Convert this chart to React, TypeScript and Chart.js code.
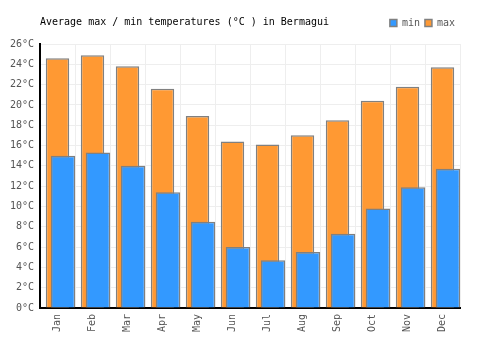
import React, { useEffect, useRef } from "react";
import { Chart, registerables } from "chart.js";

Chart.register(...registerables);

const months = ["Jan", "Feb", "Mar", "Apr", "May", "Jun", "Jul", "Aug", "Sep", "Oct", "Nov", "Dec"];
const minTemps = [15.0, 15.3, 14.0, 11.4, 8.5, 6.0, 4.7, 5.5, 7.3, 9.8, 11.9, 13.7];
const maxTemps = [24.6, 24.9, 23.8, 21.6, 18.9, 16.4, 16.1, 17.0, 18.5, 20.4, 21.8, 23.7];
const yTicks = [0, 26, 2];
const titleText = "Average max / min temperatures (°C ) in Bermagui";

const FONT = "'DejaVu Sans Mono', monospace";

export default function App() {
  const ref = useRef<HTMLCanvasElement | null>(null);

  useEffect(() => {
    document.body.style.margin = "0";
    const canvas = ref.current;
    if (!canvas) return;
    const shift = 5.5 / 35;
    const titlePlugin = {
      id: "leftTitle",
      afterDraw(chart: any) {
        const ctx = chart.ctx;
        ctx.save();
        ctx.font = `10px ${FONT}`;
        ctx.fillStyle = "#000";
        ctx.textBaseline = "middle";
        ctx.textAlign = "left";
        ctx.fillText(titleText, chart.chartArea.left, 22.5);
        ctx.restore();
      },
    };
    const chart = new Chart(canvas, {
      type: "bar",
      data: {
        labels: months,
        datasets: [
          {
            label: "min",
            data: minTemps.map((v, i) => ({ x: i, y: v })),
            xAxisID: "x2",
            backgroundColor: "#3399ff",
            borderColor: "#808080",
            borderWidth: 1.5,
            barPercentage: 0.7,
            categoryPercentage: 1,
            grouped: false,
          },
          {
            label: "max",
            data: maxTemps,
            xAxisID: "x",
            backgroundColor: "#ff9933",
            borderColor: "#808080",
            borderWidth: 1.5,
            barPercentage: 0.67,
            categoryPercentage: 1,
            grouped: false,
          },
        ],
      },
      options: {
        responsive: false,
        animation: false,
        layout: { padding: { top: 13, right: 40, left: 0, bottom: 12 } },
        font: { family: FONT, size: 10 },
        plugins: {
          title: { display: false },
          tooltip: { enabled: false },
          legend: {
            display: true,
            position: "top",
            align: "end",
            labels: {
              boxWidth: 7,
              boxHeight: 7,
              padding: 5,
              color: "#555",
              font: { family: FONT, size: 10 },
            },
          },
        },
        scales: {
          x: {
            type: "category",
            offset: true,
            grid: { color: "#eeeeee", offset: true, drawTicks: false },
            border: { color: "#000", width: 2 },
            ticks: {
              color: "#555",
              minRotation: 90,
              maxRotation: 90,
              padding: 6,
              font: { family: FONT, size: 10 },
            },
          },
          x2: {
            type: "linear",
            display: false,
            offset: false,
            min: -0.5 - shift,
            max: months.length - 0.5 - shift,
            grid: { display: false },
          },
          xTop: {
            type: "category",
            position: "top",
            display: true,
            offset: true,
            grid: { display: false, drawTicks: false },
            border: { display: false },
            ticks: { display: false },
            afterFit: (s: any) => {
              s.height = 6;
            },
          },
          y: {
            min: yTicks[0],
            max: yTicks[1],
            grid: { color: "#eeeeee", drawTicks: false },
            border: { color: "#000", width: 2 },
            afterFit: (s: any) => {
              s.width = 40;
            },
            ticks: {
              stepSize: yTicks[2],
              color: "#555",
              padding: 6,
              font: { family: FONT, size: 10 },
              callback: (v: any) => `${v}°C`,
            },
          },
        },
      },
      plugins: [titlePlugin],
    });
    return () => chart.destroy();
  }, []);

  return (
    <div style={{ width: 500, height: 350 }}>
      <canvas ref={ref} width={500} height={350} />
    </div>
  );
}
